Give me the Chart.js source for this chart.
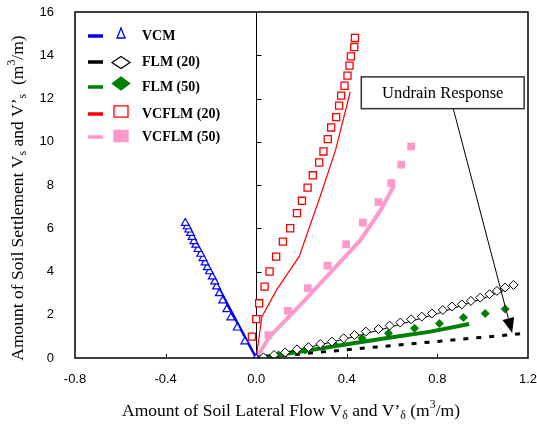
<!DOCTYPE html>
<html>
<head>
<meta charset="utf-8">
<script src="https://cdn.jsdelivr.net/npm/chart.js@4.4.0/dist/chart.umd.min.js"></script>
<style>
  html, body { margin: 0; padding: 0; background: #fff; }
</style>
</head>
<body>
<canvas id="chart" width="537" height="428"></canvas>
<script>
// VCM (settlement vs. lateral flow, negative side)
const vcmX = [0, -0.050, -0.084, -0.112, -0.130, -0.148, -0.163, -0.175, -0.183, -0.194, -0.206, -0.216, -0.226, -0.235, -0.245, -0.257, -0.267, -0.275, -0.283, -0.290, -0.298, -0.305, -0.313];
const vcmY = [0, 0.76, 1.40, 1.87, 2.25, 2.65, 2.99, 3.30, 3.53, 3.76, 4.00, 4.19, 4.41, 4.61, 4.81, 5.03, 5.23, 5.39, 5.59, 5.77, 5.93, 6.08, 6.24];
const vcmLineX = [0, -0.318];
const vcmLineY = [0, 6.25];

// FLM (20)
const flm20X = [0.032, 0.079, 0.128, 0.180, 0.231, 0.283, 0.334, 0.386, 0.434, 0.484, 0.540, 0.589, 0.636, 0.684, 0.731, 0.776, 0.824, 0.864, 0.908, 0.948, 0.989, 1.030, 1.063, 1.099, 1.136];
const flm20Y = [0.03, 0.14, 0.26, 0.40, 0.50, 0.65, 0.76, 0.91, 1.06, 1.22, 1.34, 1.50, 1.64, 1.79, 1.91, 2.06, 2.22, 2.38, 2.48, 2.64, 2.79, 2.95, 3.10, 3.26, 3.38];
const flm20LineX = [0, 0.2, 0.4, 0.6, 0.8, 1.0, 1.1];
const flm20LineY = [0, 0.42, 0.90, 1.45, 2.05, 2.75, 3.15];

// FLM (50)
const flm50X = [0.099, 0.216, 0.341, 0.467, 0.584, 0.699, 0.809, 0.915, 1.011, 1.099];
const flm50Y = [0.14, 0.37, 0.68, 0.91, 1.14, 1.37, 1.60, 1.87, 2.06, 2.27];
const flm50LineX = [0, 0.2, 0.4, 0.6, 0.77, 0.94];
const flm50LineY = [0, 0.30, 0.64, 0.96, 1.22, 1.57];

// VCFLM (20)
const vcflm20X = [-0.019, 0.0, 0.013, 0.037, 0.059, 0.088, 0.118, 0.150, 0.180, 0.202, 0.227, 0.250, 0.278, 0.297, 0.316, 0.331, 0.353, 0.366, 0.375, 0.390, 0.403, 0.412, 0.418, 0.433, 0.436];
const vcflm20Y = [0.99, 1.80, 2.53, 3.30, 4.00, 4.69, 5.38, 6.00, 6.70, 7.27, 7.88, 8.45, 9.04, 9.55, 10.12, 10.66, 11.14, 11.67, 12.13, 12.59, 13.06, 13.52, 13.95, 14.38, 14.80];
const vcflm20LineX = [0, 0.025, 0.09, 0.19, 0.28, 0.35, 0.415];
const vcflm20LineY = [0, 1.9, 3.15, 4.7, 7.4, 9.6, 12.3];

// VCFLM (50)
const vcflm50X = [0.054, 0.140, 0.228, 0.315, 0.397, 0.471, 0.540, 0.596, 0.640, 0.684];
const vcflm50Y = [1.06, 2.18, 3.23, 4.27, 5.26, 6.26, 7.21, 8.09, 8.94, 9.78];
const vcflm50LineX = [0, 0.06, 0.19, 0.31, 0.46, 0.55, 0.61];
const vcflm50LineY = [0, 1.0, 2.4, 3.75, 5.45, 6.85, 8.0];

// undrained reference line and its callout
const undrainX = [0, 1.2];
const undrainY = [0, 1.15];
const calloutBoxX = [0.464, 1.183];
const calloutBoxY = [11.53, 13.0];
const arrowX = [0.87, 1.13];
const arrowY = [11.53, 1.16];

const xTicks = [-0.8, -0.4, 0.0, 0.4, 0.8, 1.2];
const yTicks = [0, 2, 4, 6, 8, 10, 12, 14, 16];

const BLUE = '#0000ff', GREEN = '#008000', RED = '#ff0000', PINK = '#ff99cc';

const pts = (xs, ys) => xs.map((x, i) => ({ x: x, y: ys[i] }));

// legend rows: line colour, marker shape (half width / half height), text
const legendItems = [
  { label: 'VCM', line: BLUE, shape: 'tri', hw: 4, hh: 5, my: 33, fill: '#fff', stroke: BLUE, y: 36 },
  { label: 'FLM (20)', line: '#000', shape: 'dia', hw: 9, hh: 6, my: 62.5, fill: '#fff', stroke: '#000', y: 62 },
  { label: 'FLM (50)', line: GREEN, shape: 'dia', hw: 8.7, hh: 6.5, my: 83.5, fill: GREEN, stroke: GREEN, y: 87 },
  { label: 'VCFLM (20)', line: RED, shape: 'box', hw: 7, hh: 5.6, my: 111.5, fill: '#fff', stroke: RED, y: 114 },
  { label: 'VCFLM (50)', line: PINK, shape: 'box', hw: 7, hh: 5.5, my: 136, fill: PINK, stroke: PINK, y: 137 }
];

const xTitle = [
  { t: 'Amount of Soil Lateral Flow V' }, { t: 'δ', sub: true },
  { t: ' and V’' }, { t: 'δ', sub: true }, { t: ' (m' }, { t: '3', sup: true }, { t: '/m)' }
];
const yTitle = [
  { t: 'Amount of Soil Settlement V' }, { t: 's', sub: true },
  { t: ' and V’' }, { t: 's', sub: true }, { t: '  (m' }, { t: '3', sup: true }, { t: '/m)' }
];

function richWidth(ctx, parts, size) {
  let w = 0;
  parts.forEach(p => {
    ctx.font = (p.sub || p.sup ? size * 0.68 : size) + 'px "Liberation Serif"';
    w += ctx.measureText(p.t).width;
  });
  return w;
}

function drawRich(ctx, parts, cx, cy, size) {
  let x = cx - richWidth(ctx, parts, size) / 2;
  ctx.textBaseline = 'middle';
  ctx.textAlign = 'left';
  parts.forEach(p => {
    const small = p.sub || p.sup;
    ctx.font = (small ? size * 0.68 : size) + 'px "Liberation Serif"';
    const dy = p.sub ? size * 0.28 : p.sup ? -size * 0.35 : 0;
    ctx.fillText(p.t, x, cy + dy);
    x += ctx.measureText(p.t).width;
  });
}

function legendMarker(ctx, it, cx) {
  const cy = it.my;
  ctx.beginPath();
  if (it.shape === 'tri') {
    ctx.moveTo(cx, cy - it.hh);
    ctx.lineTo(cx + it.hw, cy + it.hh);
    ctx.lineTo(cx - it.hw, cy + it.hh);
  } else if (it.shape === 'dia') {
    ctx.moveTo(cx - it.hw, cy);
    ctx.lineTo(cx, cy - it.hh);
    ctx.lineTo(cx + it.hw, cy);
    ctx.lineTo(cx, cy + it.hh);
  } else {
    ctx.rect(cx - it.hw, cy - it.hh, it.hw * 2, it.hh * 2);
  }
  ctx.closePath();
  ctx.fillStyle = it.fill;
  ctx.fill();
  ctx.strokeStyle = it.stroke;
  ctx.lineWidth = 1.3;
  ctx.stroke();
}

const decor = {
  id: 'decor',
  beforeDatasetsDraw(chart) {
    const { ctx, chartArea: a, scales: { x, y } } = chart;
    ctx.save();
    ctx.strokeStyle = '#000';
    // zero line with ticks pointing right
    const x0 = Math.round(x.getPixelForValue(0)) + 0.5;
    ctx.lineWidth = 1;
    ctx.beginPath();
    ctx.moveTo(x0, a.top);
    ctx.lineTo(x0, a.bottom);
    yTicks.slice(1, -1).forEach(v => {
      const py = Math.round(y.getPixelForValue(v)) + 0.5;
      ctx.moveTo(x0, py);
      ctx.lineTo(x0 + 5, py);
    });
    // bottom ticks pointing up
    xTicks.slice(1, -1).forEach(v => {
      if (v === 0) return;
      const px = Math.round(x.getPixelForValue(v)) + 0.5;
      ctx.moveTo(px, a.bottom);
      ctx.lineTo(px, a.bottom - 4);
    });
    ctx.stroke();
    ctx.restore();
  },
  afterDatasetsDraw(chart) {
    const { ctx, chartArea: a, scales: { x, y } } = chart;
    ctx.save();
    // frame
    ctx.strokeStyle = '#000';
    ctx.lineWidth = 1.5;
    ctx.strokeRect(a.left, a.top, a.right - a.left, a.bottom - a.top);

    // legend
    legendItems.forEach(it => {
      ctx.strokeStyle = it.line;
      ctx.lineWidth = 3.5;
      ctx.beginPath();
      ctx.moveTo(88, it.y);
      ctx.lineTo(103, it.y);
      ctx.stroke();
      legendMarker(ctx, it, 121);
      ctx.fillStyle = '#000';
      ctx.font = 'bold 14px "Liberation Serif"';
      ctx.textAlign = 'left';
      ctx.textBaseline = 'middle';
      ctx.fillText(it.label, 142, it.y);
    });

    // callout box and arrow
    const bx1 = x.getPixelForValue(calloutBoxX[0]), bx2 = x.getPixelForValue(calloutBoxX[1]);
    const by1 = y.getPixelForValue(calloutBoxY[1]), by2 = y.getPixelForValue(calloutBoxY[0]);
    ctx.fillStyle = '#fff';
    ctx.fillRect(bx1, by1, bx2 - bx1, by2 - by1);
    ctx.strokeStyle = '#333';
    ctx.lineWidth = 1.5;
    ctx.strokeRect(bx1, by1, bx2 - bx1, by2 - by1);
    ctx.fillStyle = '#000';
    ctx.font = '16.5px "Liberation Serif"';
    ctx.textAlign = 'center';
    ctx.textBaseline = 'middle';
    ctx.fillText('Undrain Response', (bx1 + bx2) / 2, (by1 + by2) / 2 + 1);

    const ax1 = x.getPixelForValue(arrowX[0]), ay1 = y.getPixelForValue(arrowY[0]);
    const ax2 = x.getPixelForValue(arrowX[1]), ay2 = y.getPixelForValue(arrowY[1]);
    const ang = Math.atan2(ay2 - ay1, ax2 - ax1);
    const len = 15, half = 6;
    ctx.strokeStyle = '#000';
    ctx.lineWidth = 1;
    ctx.beginPath();
    ctx.moveTo(ax1, ay1);
    ctx.lineTo(ax2 - Math.cos(ang) * len, ay2 - Math.sin(ang) * len);
    ctx.stroke();
    ctx.beginPath();
    ctx.moveTo(ax2, ay2);
    ctx.lineTo(ax2 - Math.cos(ang) * len - Math.sin(ang) * half, ay2 - Math.sin(ang) * len + Math.cos(ang) * half);
    ctx.lineTo(ax2 - Math.cos(ang) * len + Math.sin(ang) * half, ay2 - Math.sin(ang) * len - Math.cos(ang) * half);
    ctx.closePath();
    ctx.fill();
    ctx.restore();
  },
  afterDraw(chart) {
    const { ctx, chartArea: a, scales: { x, y } } = chart;
    ctx.save();
    ctx.fillStyle = '#000';
    // tick labels
    ctx.font = '13px "Liberation Sans"';
    ctx.textAlign = 'center';
    ctx.textBaseline = 'middle';
    xTicks.forEach(v => ctx.fillText(v.toFixed(1), x.getPixelForValue(v), a.bottom + 21));
    ctx.textAlign = 'right';
    yTicks.forEach(v => ctx.fillText(String(v), a.left - 21, y.getPixelForValue(v)));
    // axis titles
    drawRich(ctx, xTitle, 291, 411, 17.5);
    ctx.translate(18, 198);
    ctx.rotate(-Math.PI / 2);
    drawRich(ctx, yTitle, 0, 0, 17.5);
    ctx.restore();
  }
};

const markers = (data, style, radius, fill, stroke, bw) => ({
  data: data, showLine: false, pointStyle: style, pointRadius: radius,
  pointBackgroundColor: fill, pointBorderColor: stroke, pointBorderWidth: bw, order: 1
});
const curve = (data, color, width, dash) => ({
  data: data, showLine: true, pointRadius: 0, borderColor: color, borderWidth: width,
  borderDash: dash || [], fill: false, tension: 0, order: 2
});

new Chart(document.getElementById('chart'), {
  type: 'scatter',
  data: {
    datasets: [
      markers(pts(vcflm20X, vcflm20Y), 'rect', 5, '#fff', RED, 1.3),
      markers(pts(vcflm50X, vcflm50Y), 'rect', 5.5, PINK, PINK, 0),
      markers(pts(flm20X, flm20Y), 'rectRot', 4.5, '#fff', '#000', 1),
      markers(pts(flm50X, flm50Y), 'rectRot', 4.5, GREEN, GREEN, 0),
      markers(pts(vcmX, vcmY), 'triangle', 4.5, '#fff', BLUE, 1.2),
      curve(pts(vcmLineX, vcmLineY), BLUE, 2.5),
      curve(pts(flm20LineX, flm20LineY), '#000', 1),
      curve(pts(flm50LineX, flm50LineY), GREEN, 4),
      curve(pts(vcflm20LineX, vcflm20LineY), RED, 1.2),
      curve(pts(vcflm50LineX, vcflm50LineY), PINK, 4),
      curve(pts(undrainX, undrainY), '#000', 3, [5, 8])
    ]
  },
  options: {
    responsive: false,
    animation: false,
    layout: { padding: { top: 12, right: 9, left: 0, bottom: 0 } },
    plugins: { legend: { display: false }, tooltip: { enabled: false } },
    scales: {
      x: {
        type: 'linear', min: -0.8, max: 1.2,
        afterFit: s => { s.height = 70; },
        grid: { display: false, drawTicks: false },
        border: { display: false },
        ticks: { display: false }
      },
      y: {
        type: 'linear', min: 0, max: 16,
        afterFit: s => { s.width = 75; },
        grid: { display: false, drawTicks: false },
        border: { display: false },
        ticks: { display: false }
      }
    }
  },
  plugins: [decor]
});
</script>
</body>
</html>
